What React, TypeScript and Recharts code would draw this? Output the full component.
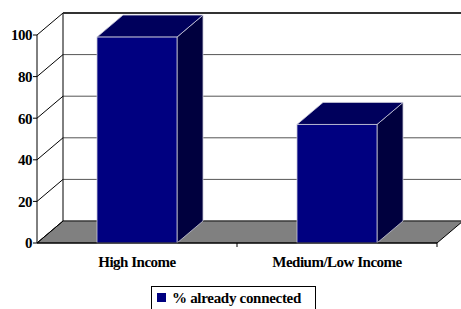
import { BarChart, Bar, XAxis, YAxis, CartesianGrid, Legend } from "recharts";

const categories = ["High Income", "Medium/Low Income"];
const connected = [99, 57];
const yTicks = [0, 20, 40, 60, 80, 100];
const seriesName = "% already connected";

const data = categories.map((name, i) => ({ name, connected: connected[i] }));

// depth of the fake 3d box
const DX = 26;
const DY = 22;

const FONT = "Liberation Serif, DejaVu Serif, Times, serif";

const Bar3D = (props: any) => {
  const { x, y, width: w, height: h } = props;
  if (h == null || w == null) return null;
  const edge = "#c8c8d8";
  return (
    <g>
      <polygon
        points={`${x + w},${y} ${x + w + DX},${y - DY} ${x + w + DX},${y + h - DY} ${x + w},${y + h}`}
        fill="#00003e"
        stroke={edge}
        strokeWidth={0.8}
      />
      <polygon
        points={`${x},${y} ${x + DX},${y - DY} ${x + w + DX},${y - DY} ${x + w},${y}`}
        fill="#00005c"
        stroke={edge}
        strokeWidth={0.8}
      />
      <rect x={x} y={y} width={w} height={h} fill="#000080" stroke={edge} strokeWidth={0.8} />
    </g>
  );
};

// back wall lines, left wall diagonals and the floor, all offset from the front grid lines
const GridLine = (props: any) => {
  const { x1, x2, y1, index } = props;
  const bottom = (props.y ?? 0) + (props.height ?? 0);
  const top = props.y ?? 0;
  const isFloor = Math.abs(y1 - bottom) < 0.5;
  const isTop = Math.abs(y1 - top) < 0.5;
  return (
    <g key={`g-${index}`}>
      {isFloor && (
        <polygon
          points={`${x1},${y1} ${x2},${y1} ${x2 + DX},${y1 - DY} ${x1 + DX},${y1 - DY}`}
          fill="#808080"
          stroke="#000"
          strokeWidth={1}
        />
      )}
      {isTop && <line x1={x1 + DX} y1={y1 - DY} x2={x1 + DX} y2={bottom - DY} stroke="#000" strokeWidth={1} />}
      <line
        x1={x1 + DX}
        y1={y1 - DY}
        x2={x2 + DX}
        y2={y1 - DY}
        stroke={isTop ? "#333" : "#555"}
        strokeWidth={isTop ? 2 : 1}
      />
      <line x1={x1} y1={y1} x2={x1 + DX} y2={y1 - DY} stroke="#000" strokeWidth={1} />
    </g>
  );
};

const XTick = (props: any) => {
  const { x, y, payload, width, visibleTicksCount } = props;
  const half = payload?.offset || (width && visibleTicksCount ? width / visibleTicksCount / 2 : 100);
  return (
    <g>
      <line x1={x + half} y1={y} x2={x + half} y2={y + 4} stroke="#000" />
      <text
        x={x}
        y={y + 24}
        textAnchor="middle"
        style={{ fontFamily: FONT }}
        fontWeight="bold"
        fontSize={15}
        fill="#000"
        letterSpacing={-0.5}
      >
        {payload.value}
      </text>
    </g>
  );
};

const LegendBox = () => (
  <div
    style={{
      border: "1px solid #000",
      width: 165,
      height: 30,
      boxSizing: "border-box",
      padding: "3px 0 0 5px",
      fontFamily: FONT,
      fontWeight: "bold",
      fontSize: 15,
      letterSpacing: -0.3,
      whiteSpace: "nowrap",
      background: "#fff",
    }}
  >
    <span
      style={{
        display: "inline-block",
        width: 9,
        height: 9,
        background: "#000080",
        marginRight: 6,
        verticalAlign: "1px",
      }}
    />
    {seriesName}
  </div>
);

export default function App() {
  return (
    <div style={{ width: 461, height: 309, overflow: "hidden", position: "relative", background: "#fff" }}>
      <style>{"body{margin:0}"}</style>
      <BarChart
        width={461}
        height={309}
        data={data}
        margin={{ top: 35, right: 24, left: 0, bottom: 36 }}
        barCategoryGap="30%"
      >
        <CartesianGrid vertical={false} horizontal={GridLine as any} />
        <XAxis
          dataKey="name"
          height={30}
          axisLine={{ stroke: "#000" }}
          tickLine={false}
          tickSize={0}
          tickMargin={0}
          tick={XTick}
          interval={0}
        />
        <YAxis
          width={37}
          domain={[0, 100]}
          ticks={yTicks}
          axisLine={{ stroke: "#000" }}
          tickLine={{ stroke: "#000" }}
          tickSize={4}
          tickMargin={1}
          tick={{ style: { fontFamily: FONT }, fontWeight: "bold", fontSize: 15, fill: "#000", letterSpacing: -0.5 }}
        />
        <Legend
          layout="horizontal"
          verticalAlign="middle"
          align="center"
          content={LegendBox}
          wrapperStyle={{ top: 286, left: 151, width: 165 }}
        />
        <Bar dataKey="connected" name={seriesName} fill="#000080" shape={Bar3D} isAnimationActive={false} />
      </BarChart>
    </div>
  );
}
